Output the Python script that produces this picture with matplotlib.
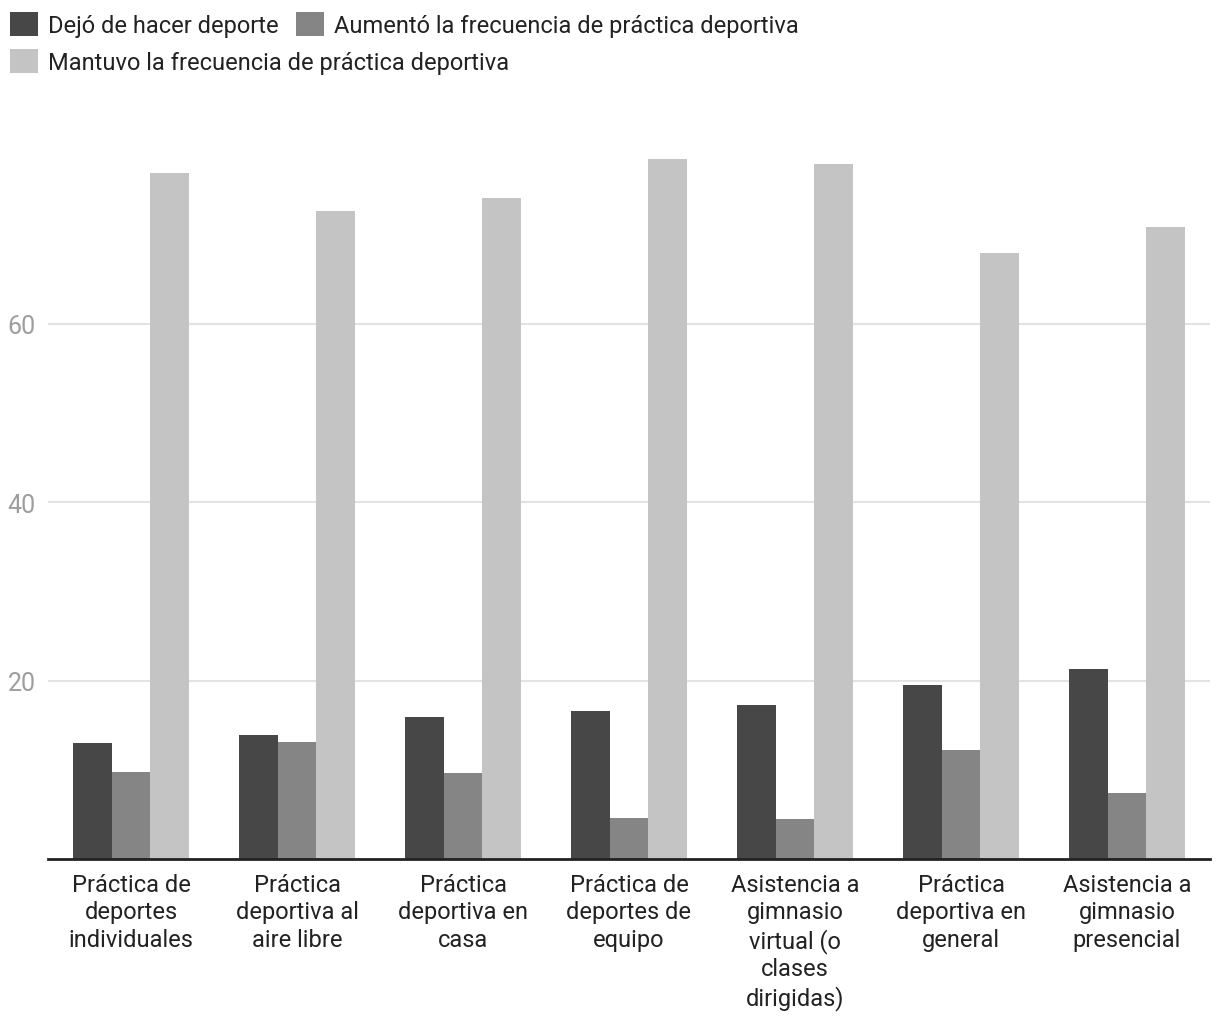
import numpy as np
import matplotlib
matplotlib.use("Agg")
from matplotlib import pyplot as plt

plt.rcParams['font.family'] = ['Roboto', 'DejaVu Sans']

categories = [
    "Práctica de\ndeportes\nindividuales",
    "Práctica\ndeportiva al\naire libre",
    "Práctica\ndeportiva en\ncasa",
    "Práctica de\ndeportes de\nequipo",
    "Asistencia a\ngimnasio\nvirtual (o\nclases\ndirigidas)",
    "Práctica\ndeportiva en\ngeneral",
    "Asistencia a\ngimnasio\npresencial",
]
series_names = [
    "Dejó de hacer deporte",
    "Aumentó la frecuencia de práctica deportiva",
    "Mantuvo la frecuencia de práctica deportiva",
]
dejo = [13.0, 13.9, 15.9, 16.6, 17.3, 19.5, 21.3]
aumento = [9.7, 13.1, 9.6, 4.6, 4.5, 12.2, 7.4]
mantuvo = [76.9, 72.6, 74.1, 78.5, 77.9, 67.9, 70.9]
colors = ["#474747", "#858585", "#c4c4c4"]

W, H = 1220, 1020
fig = plt.figure(figsize=(W / 100, H / 100), dpi=100)
ax = fig.add_axes([48 / W, 1 - 860 / H, (1210 - 48) / W, (860 - 150) / H])

x = np.arange(len(categories))
bw = 0.233
bars = []
for k, vals in enumerate([dejo, aumento, mantuvo]):
    b = ax.bar(x + (k - 1) * bw, vals, width=bw, color=colors[k],
               label=series_names[k], zorder=3)
    bars.append(b)

ax.set_xlim(-0.5, len(categories) - 0.5)
ax.set_ylim(0, 79.6)
ax.set_yticks([20, 40, 60])
ax.yaxis.grid(True, color="#e3e3e3", linewidth=1.5, zorder=0)
ax.set_axisbelow(True)
for s in ["top", "right", "left"]:
    ax.spines[s].set_visible(False)
ax.spines["bottom"].set_color("#222222")
ax.spines["bottom"].set_linewidth(2)
ax.spines["bottom"].set_zorder(4)
ax.tick_params(axis="y", length=0, pad=9, labelsize=18, labelcolor="#9e9e9e")
ax.tick_params(axis="x", length=0, pad=10, labelsize=17, labelcolor="#222222")
ax.set_xticks(x)
ax.set_xticklabels(categories, linespacing=1.24, va="top")

leg_kw = dict(frameon=False, fontsize=17, borderpad=0, borderaxespad=0,
              handlelength=1.2, handleheight=1.2, handletextpad=0.4,
              labelcolor="#222222", loc="upper left",
              bbox_transform=fig.transFigure)
leg1 = ax.legend(handles=bars[:2], bbox_to_anchor=(10 / W, 1 - 13 / H),
                 ncol=2, columnspacing=0.75, **leg_kw)
ax.add_artist(leg1)
ax.legend(handles=bars[2:], bbox_to_anchor=(10 / W, 1 - 50 / H), **leg_kw)

fig.savefig("out.png", dpi=100)
